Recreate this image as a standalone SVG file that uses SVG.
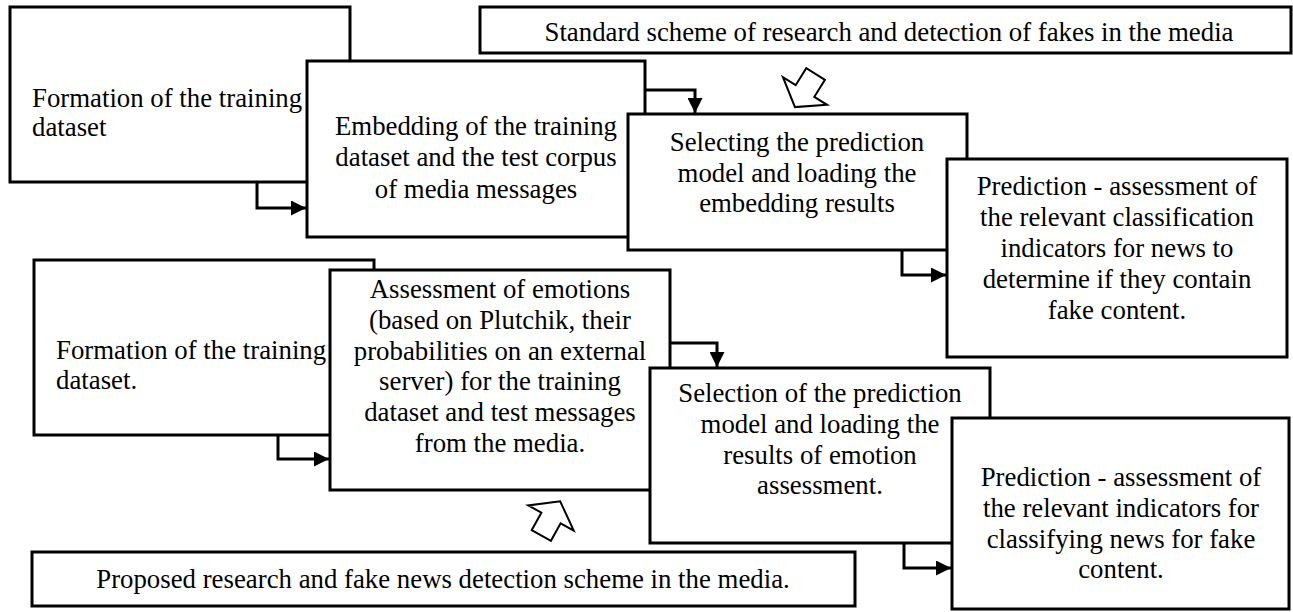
<svg xmlns="http://www.w3.org/2000/svg" width="1293" height="612" viewBox="0 0 1293 612">
<style>
.box{fill:#fff;stroke:#000;stroke-width:3}
.t{font-family:'Liberation Serif','DejaVu Serif','Noto Serif','Times New Roman',Times,serif;font-size:26.8px;fill:#000}
.c{text-anchor:middle}
.conn{fill:none;stroke:#000;stroke-width:3;marker-end:url(#ah)}
.hollow{fill:#fff;stroke:#000;stroke-width:2;stroke-linejoin:miter}
</style>
<defs>
<marker id="ah" viewBox="0 0 15 15" refX="15" refY="7.5" markerWidth="15" markerHeight="15" markerUnits="userSpaceOnUse" orient="auto">
<path d="M0,0 L15,7.5 L0,15 z" fill="#000"/>
</marker>
<polygon id="bigarrow" points="0,-19 26,0 11,0 11,20 -11,20 -11,0 -26,0"/>
</defs>
<rect width="1293" height="612" fill="#fff"/>

<g id="standard-label">
<rect class="box" x="480" y="7" width="811" height="46"/>
<text class="t c" x="889" y="41">Standard scheme of research and detection of fakes in the media</text>
</g>
<g id="top-formation">
<rect class="box" x="10" y="7" width="340" height="175"/>
<text class="t" x="32" y="107">Formation of the training</text>
<text class="t" x="32" y="136">dataset</text>
</g>
<g id="top-embedding">
<rect class="box" x="307" y="61" width="338" height="176"/>
<text class="t c" x="476" y="135">Embedding of the training</text>
<text class="t c" x="476" y="166">dataset and the test corpus</text>
<text class="t c" x="476" y="198">of media messages</text>
</g>
<g id="top-selecting">
<rect class="box" x="628" y="114" width="339" height="136"/>
<text class="t c" x="797" y="151">Selecting the prediction</text>
<text class="t c" x="797" y="182">model and loading the</text>
<text class="t c" x="797" y="212">embedding results</text>
</g>
<g id="top-prediction">
<rect class="box" x="947" y="159" width="340" height="198"/>
<text class="t c" x="1117" y="195">Prediction - assessment of</text>
<text class="t c" x="1117" y="226">the relevant classification</text>
<text class="t c" x="1117" y="257">indicators for news to</text>
<text class="t c" x="1117" y="288">determine if they contain</text>
<text class="t c" x="1117" y="319">fake content.</text>
</g>

<g id="bottom-formation">
<rect class="box" x="34" y="260" width="340" height="175"/>
<text class="t" x="56" y="359">Formation of the training</text>
<text class="t" x="56" y="389">dataset.</text>
</g>
<g id="bottom-emotions">
<rect class="box" x="330" y="270" width="340" height="220"/>
<text class="t c" x="500" y="298">Assessment of emotions</text>
<text class="t c" x="500" y="329">(based on Plutchik, their</text>
<text class="t c" x="500" y="360">probabilities on an external</text>
<text class="t c" x="500" y="390">server) for the training</text>
<text class="t c" x="500" y="421">dataset and test messages</text>
<text class="t c" x="500" y="452">from the media.</text>
</g>
<g id="bottom-selection">
<rect class="box" x="650" y="368" width="340" height="175"/>
<text class="t c" x="820" y="402">Selection of the prediction</text>
<text class="t c" x="820" y="433">model and loading the</text>
<text class="t c" x="820" y="464">results of emotion</text>
<text class="t c" x="820" y="494">assessment.</text>
</g>
<g id="bottom-prediction">
<rect class="box" x="952" y="418" width="337" height="191"/>
<text class="t c" x="1121" y="486">Prediction - assessment of</text>
<text class="t c" x="1121" y="517">the relevant indicators for</text>
<text class="t c" x="1121" y="548">classifying news for fake</text>
<text class="t c" x="1121" y="578">content.</text>
</g>
<g id="proposed-label">
<rect class="box" x="32" y="552" width="823" height="54"/>
<text class="t c" x="443" y="588">Proposed research and fake news detection scheme in the media.</text>
</g>

<g id="connectors">
<polyline class="conn" points="257,182 257,208 306,208"/>
<polyline class="conn" points="645,90 695,90 695,113"/>
<polyline class="conn" points="902,250 902,275 946,275"/>
<polyline class="conn" points="278,435 278,459 329,459"/>
<polyline class="conn" points="670,343 717,343 717,367"/>
<polyline class="conn" points="904,543 904,568 951,568"/>
<use href="#bigarrow" class="hollow" transform="translate(805,91) rotate(212)"/>
<use href="#bigarrow" class="hollow" transform="translate(551,518) rotate(29)"/>
</g>
</svg>
